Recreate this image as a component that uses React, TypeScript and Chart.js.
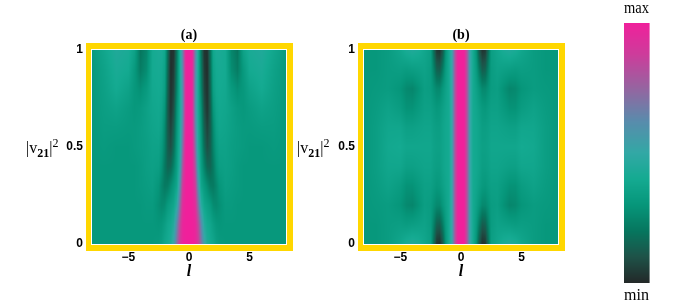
import React, { useEffect, useRef } from "react";
import { Chart, registerables } from "chart.js";

Chart.register(...registerables);

// distance from the centre of the panel (both panels are mirror symmetric)
const lNodes = [0, 0.25, 0.5, 0.75, 1, 1.25, 1.5, 1.75, 2, 2.25, 2.5, 3, 3.5, 4, 4.5, 5, 6, 7, 8];
const vNodes = [1, 0.9, 0.8, 0.7, 0.6, 0.5, 0.4, 0.3, 0.2, 0.1, 0];

const panelA = [
  [100, 100, 68, 42, 20, 3, 2, 18, 38, 42, 42, 40, 25, 20, 36, 42, 44, 38, 32],
  [100, 98, 66, 42, 22, 5, 1, 16, 36, 40, 41, 40, 27, 22, 32, 40, 42, 36, 31],
  [100, 98, 64, 42, 24, 7, 2, 14, 34, 39, 40, 39, 32, 28, 31, 36, 40, 35, 31],
  [100, 98, 64, 42, 28, 10, 3, 12, 30, 37, 39, 38, 35, 32, 31, 33, 36, 34, 31],
  [100, 98, 68, 44, 30, 14, 6, 12, 26, 35, 38, 37, 35, 33, 32, 32, 33, 33, 31],
  [100, 100, 74, 46, 32, 18, 9, 13, 24, 32, 36, 36, 34, 33, 32, 31, 31, 32, 31],
  [100, 100, 82, 50, 34, 24, 16, 15, 21, 29, 34, 35, 34, 32, 31, 31, 31, 31, 31],
  [100, 100, 90, 60, 38, 32, 27, 22, 21, 25, 30, 34, 33, 32, 31, 31, 31, 31, 31],
  [100, 100, 95, 72, 48, 38, 35, 32, 27, 26, 28, 32, 32, 31, 31, 31, 31, 31, 31],
  [100, 100, 98, 84, 64, 46, 40, 38, 34, 31, 30, 31, 31, 31, 31, 31, 31, 31, 31],
  [100, 100, 98, 90, 72, 54, 44, 40, 38, 34, 32, 31, 31, 31, 31, 31, 31, 31, 31],
];

const panelB = [
  [100, 100, 80, 52, 40, 30, 12, 3, 4, 18, 34, 38, 42, 44, 42, 38, 33, 31, 31],
  [100, 100, 80, 52, 40, 33, 22, 13, 14, 24, 33, 36, 35, 34, 33, 34, 33, 31, 31],
  [100, 100, 80, 52, 40, 36, 31, 26, 26, 29, 33, 34, 29, 25, 26, 30, 33, 32, 31],
  [100, 100, 80, 52, 40, 38, 35, 32, 31, 33, 35, 35, 32, 29, 29, 33, 36, 33, 31],
  [100, 100, 80, 52, 40, 39, 37, 34, 34, 35, 37, 37, 36, 35, 35, 38, 38, 34, 31],
  [100, 100, 80, 52, 40, 39, 37, 35, 35, 36, 38, 38, 38, 38, 38, 40, 39, 34, 31],
  [100, 100, 80, 52, 40, 39, 37, 34, 34, 35, 37, 37, 36, 35, 35, 38, 38, 34, 31],
  [100, 100, 80, 52, 40, 38, 35, 32, 31, 33, 35, 35, 32, 29, 29, 33, 36, 33, 31],
  [100, 100, 80, 52, 40, 36, 31, 26, 26, 29, 33, 34, 29, 25, 26, 30, 33, 32, 31],
  [100, 100, 80, 52, 40, 33, 22, 13, 14, 24, 33, 36, 35, 34, 33, 34, 33, 31, 31],
  [100, 100, 80, 52, 40, 30, 12, 2, 3, 18, 34, 38, 42, 44, 42, 38, 33, 31, 31],
];

const colorStops = [0, 10, 20, 30, 40, 50, 62, 75, 88, 100];
const colorRGB = [
  [35, 40, 40],
  [30, 82, 72],
  [6, 118, 94],
  [6, 150, 122],
  [20, 170, 145],
  [50, 168, 165],
  [88, 140, 172],
  [150, 100, 160],
  [205, 60, 155],
  [240, 32, 155],
];

const xTicks = [-5, 0, 5];
const yTicks = [0, 0.5, 1];
const barRange = [0, 100];

const TICK_FONT = { family: "'Liberation Sans'", size: 12, weight: "bold" as const };
const GOLD = "#ffd700";

function colorOf(v: number): number[] {
  let i = 0;
  while (i < colorStops.length - 2 && v > colorStops[i + 1]) i++;
  const t = Math.max(0, Math.min(1, (v - colorStops[i]) / (colorStops[i + 1] - colorStops[i])));
  return colorRGB[i].map((c, k) => Math.round(c + (colorRGB[i + 1][k] - c) * t));
}

function lookup(grid: number[][], l: number, v: number): number {
  const a = Math.min(Math.abs(l), 8);
  let c = 0;
  while (c < lNodes.length - 2 && a > lNodes[c + 1]) c++;
  let r = 0;
  while (r < vNodes.length - 2 && v < vNodes[r + 1]) r++;
  const tc = (a - lNodes[c]) / (lNodes[c + 1] - lNodes[c]);
  const tr = Math.max(0, Math.min(1, (vNodes[r] - v) / (vNodes[r] - vNodes[r + 1])));
  const top = grid[r][c] + (grid[r][c + 1] - grid[r][c]) * tc;
  const bot = grid[r + 1][c] + (grid[r + 1][c + 1] - grid[r + 1][c]) * tc;
  return top + (bot - top) * tr;
}

function densityPlugin(grid: number[][]) {
  return {
    id: "density",
    beforeDatasetsDraw(chart: any) {
      const { ctx, chartArea: a, scales } = chart;
      ctx.save();
      ctx.fillStyle = GOLD;
      ctx.fillRect(a.left - 6, a.top - 7, a.width + 13, a.height + 14);
      ctx.fillStyle = "#ffffff";
      ctx.fillRect(a.left - 1, a.top - 1, a.width + 2, a.height + 2);
      for (let py = a.top; py < a.bottom; py++) {
        const v = scales.y.getValueForPixel(py + 0.5);
        for (let px = a.left; px < a.right; px++) {
          const l = scales.x.getValueForPixel(px + 0.5);
          const [r, g, b] = colorOf(lookup(grid, l, v));
          ctx.fillStyle = `rgb(${r},${g},${b})`;
          ctx.fillRect(px, py, 1, 1);
        }
      }
      ctx.restore();
    },
  };
}

const barPlugin = {
  id: "colorbar",
  beforeDatasetsDraw(chart: any) {
    const { ctx, chartArea: a, scales } = chart;
    ctx.save();
    for (let py = a.top; py < a.bottom; py++) {
      const [r, g, b] = colorOf(scales.y.getValueForPixel(py + 0.5));
      ctx.fillStyle = `rgb(${r},${g},${b})`;
      ctx.fillRect(a.left, py, a.width, 1);
      ctx.fillStyle = `rgba(${r},${g},${b},0.6)`;
      ctx.fillRect(a.right, py, 1, 1);
    }
    ctx.restore();
  },
};

function panelConfig(title: string, grid: number[][], leftWidth: number): any {
  const points: { x: number; y: number }[] = [];
  vNodes.forEach((v) => lNodes.forEach((l) => points.push({ x: l, y: v })));
  return {
    type: "scatter",
    data: { datasets: [{ label: title, data: points, pointRadius: 0 }] },
    plugins: [densityPlugin(grid)],
    options: {
      animation: false,
      responsive: false,
      layout: { padding: { left: 0, right: 14, top: 0, bottom: 0 } },
      plugins: {
        legend: { display: false },
        tooltip: { enabled: false },
        title: {
          display: true,
          text: title,
          fullSize: false,
          color: "#000",
          font: { family: "'Liberation Serif'", size: 14, weight: "bold", lineHeight: 1 },
          padding: { top: 28, bottom: 8 },
        },
      },
      scales: {
        x: {
          type: "linear",
          min: -8,
          max: 8,
          afterBuildTicks: (s: any) => {
            s.ticks = xTicks.map((value) => ({ value }));
          },
          afterFit: (s: any) => {
            s.height = 63;
          },
          grid: { display: false, drawTicks: false },
          border: { display: false },
          ticks: {
            color: "#000",
            font: TICK_FONT,
            padding: 6,
            maxRotation: 0,
            callback: (v: number) => String(v).replace("-", "\u2212"),
          },
          title: {
            display: true,
            text: "l",
            color: "#000",
            font: { family: "'Liberation Serif'", size: 16, style: "italic", weight: "bold", lineHeight: 1 },
            padding: { top: 0, bottom: 27 },
          },
        },
        y: {
          type: "linear",
          min: 0,
          max: 1,
          afterBuildTicks: (s: any) => {
            s.ticks = yTicks.map((value) => ({ value }));
          },
          afterFit: (s: any) => {
            s.width = leftWidth;
          },
          grid: { display: false, drawTicks: false },
          border: { display: false },
          ticks: { color: "#000", font: TICK_FONT, padding: 9, callback: (v: number) => String(v) },
        },
      },
    },
  };
}

function barConfig(): any {
  return {
    type: "scatter",
    data: { datasets: [{ data: barRange.map((y) => ({ x: 0, y })), pointRadius: 0 }] },
    plugins: [barPlugin],
    options: {
      animation: false,
      responsive: false,
      layout: { padding: { left: 34, right: 34, top: 0, bottom: 0 } },
      plugins: {
        legend: { display: false },
        tooltip: { enabled: false },
        title: {
          display: true,
          text: "max",
          color: "#000",
          font: { family: "'Liberation Serif'", size: 16, weight: "normal", lineHeight: 1 },
          padding: { top: 1, bottom: 6 },
        },
        subtitle: {
          display: true,
          position: "bottom",
          text: "min",
          color: "#000",
          font: { family: "'Liberation Serif'", size: 16, weight: "normal", lineHeight: 1 },
          padding: { top: 5, bottom: 3 },
        },
      },
      scales: {
        x: { type: "linear", display: false, min: -1, max: 1 },
        y: { type: "linear", display: false, min: barRange[0], max: barRange[1] },
      },
    },
  };
}

function YLabel({ left, top }: { left: number; top: number }) {
  return (
    <div
      style={{
        position: "absolute",
        left,
        top,
        font: "16px/18px 'Liberation Serif'",
        color: "#000",
        whiteSpace: "nowrap",
      }}
    >
      |v<sub style={{ fontSize: 12, fontWeight: "bold", lineHeight: 0 }}>21</sub>|
      <sup style={{ fontSize: 12, lineHeight: 0 }}>2</sup>
    </div>
  );
}

export default function App() {
  const aRef = useRef<HTMLCanvasElement>(null);
  const bRef = useRef<HTMLCanvasElement>(null);
  const cRef = useRef<HTMLCanvasElement>(null);

  useEffect(() => {
    const charts = [
      new Chart(aRef.current!, panelConfig("(a)", panelA, 92)),
      new Chart(bRef.current!, panelConfig("(b)", panelB, 64)),
      new Chart(cRef.current!, barConfig()),
    ];
    return () => charts.forEach((c) => c.destroy());
  }, []);

  return (
    <div style={{ position: "fixed", left: 0, top: 0, width: 692, height: 307, background: "#fff", overflow: "hidden" }}>
      <canvas ref={aRef} width={300} height={307} style={{ position: "absolute", left: 0, top: 0 }} />
      <canvas ref={bRef} width={272} height={307} style={{ position: "absolute", left: 300, top: 0 }} />
      <canvas ref={cRef} width={93} height={307} style={{ position: "absolute", left: 590, top: 0 }} />
      <YLabel left={26} top={139} />
      <YLabel left={297} top={139} />
    </div>
  );
}
